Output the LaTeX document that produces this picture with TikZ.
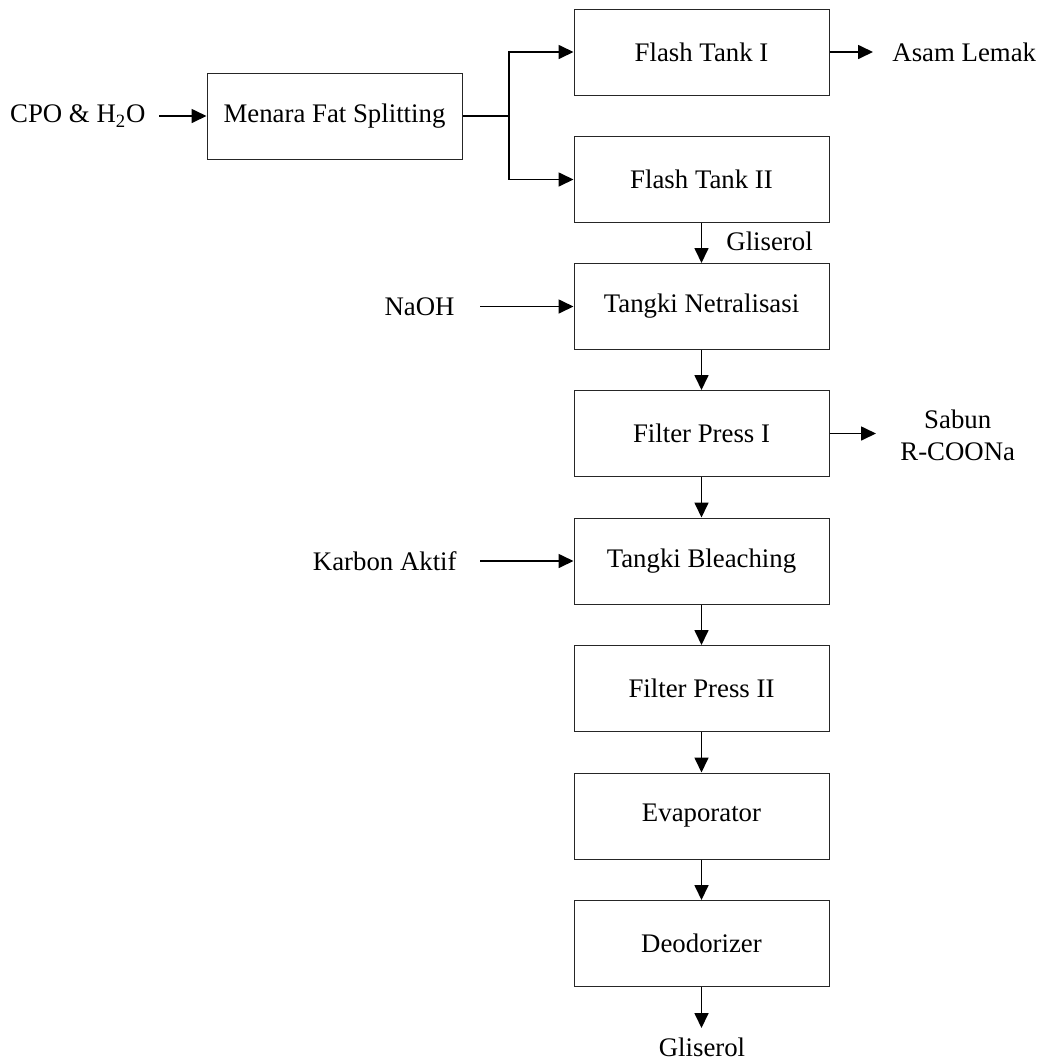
\documentclass[tikz,border=0pt]{standalone}
\usepackage{fontspec}
\setmainfont{Liberation Serif}
\usetikzlibrary{arrows.meta}
\begin{document}
\begin{tikzpicture}[x=0.5pt,y=-0.5pt,
  every node/.style={font=\fontsize{13.4pt}{16pt}\selectfont},
  procbox/.style={draw=black!85,line width=0.5pt,minimum width=127.5pt,minimum height=43pt,inner sep=0pt},
  txt/.style={inner sep=0pt},
  flow/.style={line width=0.85pt,-{Triangle[length=7.5pt,width=7pt]}}]
\useasboundingbox (0,0) rectangle (1044,1061);
\node[procbox] (mfs) at (334.5,116) {Menara Fat Splitting};
\node[procbox] (ft1) at (701.5,52) {Flash Tank I};
\node[procbox] (ft2) at (701.5,179.5) {Flash Tank II};
\node[procbox] (tn) at (701.5,306.5) {Tangki Netralisasi};
\node[procbox] (fp1) at (701.5,433.5) {Filter Press I};
\node[procbox] (tb) at (701.5,561) {Tangki Bleaching};
\node[procbox] (fp2) at (701.5,688.5) {Filter Press II};
\node[procbox] (ev) at (701.5,816) {Evaporator};
\node[procbox] (de) at (701.5,943.5) {Deodorizer};

\node[txt,anchor=east] (cpo) at (146,116) {CPO \& H\textsubscript{2}O};
\node[txt,anchor=west] (asam) at (892,52) {Asam Lemak};
\node[txt,anchor=west] (glab) at (726,241) {Gliserol};
\node[txt,anchor=east] (naoh) at (455,306.5) {NaOH};
\node[txt,anchor=west,align=center] (sabun) at (900,435) {Sabun\\R-COONa};
\node[txt,anchor=east] (karbon) at (457,561) {Karbon Aktif};
\node[txt,anchor=north] (gl2) at (702,1037) {Gliserol};

\coordinate (split) at (509,116);
\coordinate (cpoend) at (159,116);
\coordinate (asamend) at (873,52);
\coordinate (naohend) at (480,306.5);
\coordinate (sabunend) at (876,433.5);
\coordinate (karbonend) at (480,561);
\coordinate (glend) at (701.5,1028);

\draw[flow] (cpoend) -- (mfs.west);
\draw[line width=0.85pt] (mfs.east) -- (split);
\draw[flow] (split) |- (ft1.west);
\draw[flow] (split) |- (ft2.west);
\draw[flow] (ft1.east) -- (asamend);
\draw[flow] (ft2.south) -- (tn.north);
\draw[flow] (naohend) -- (tn.west);
\draw[flow] (tn.south) -- (fp1.north);
\draw[flow] (fp1.east) -- (sabunend);
\draw[flow] (fp1.south) -- (tb.north);
\draw[flow] (karbonend) -- (tb.west);
\draw[flow] (tb.south) -- (fp2.north);
\draw[flow] (fp2.south) -- (ev.north);
\draw[flow] (ev.south) -- (de.north);
\draw[flow] (de.south) -- (glend);
\end{tikzpicture}
\end{document}
